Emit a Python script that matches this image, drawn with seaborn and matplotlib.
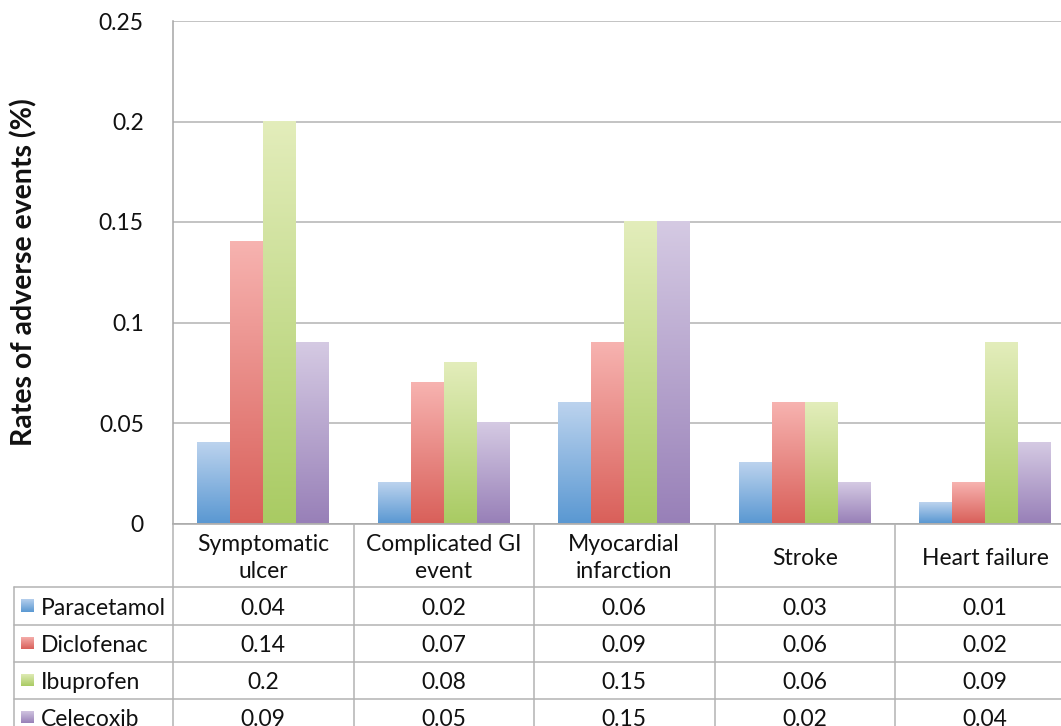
import numpy as np
import pandas as pd
import matplotlib
matplotlib.use("Agg")
import matplotlib.pyplot as plt
import seaborn as sns
from matplotlib.colors import LinearSegmentedColormap
from matplotlib.lines import Line2D
import matplotlib.transforms as mtransforms

# ---- data ----
categories = ["Symptomatic\nulcer", "Complicated GI\nevent", "Myocardial\ninfarction", "Stroke", "Heart failure"]
drugs = ["Paracetamol", "Diclofenac", "Ibuprofen", "Celecoxib"]
paracetamol = [0.04, 0.02, 0.06, 0.03, 0.01]
diclofenac = [0.14, 0.07, 0.09, 0.06, 0.02]
ibuprofen = [0.2, 0.08, 0.15, 0.06, 0.09]
celecoxib = [0.09, 0.05, 0.15, 0.02, 0.04]
table_labels = [["0.04", "0.02", "0.06", "0.03", "0.01"],
                ["0.14", "0.07", "0.09", "0.06", "0.02"],
                ["0.2", "0.08", "0.15", "0.06", "0.09"],
                ["0.09", "0.05", "0.15", "0.02", "0.04"]]
yticks = [0, 0.05, 0.1, 0.15, 0.2, 0.25]
ytick_labels = ["0", "0.05", "0.1", "0.15", "0.2", "0.25"]

series = [paracetamol, diclofenac, ibuprofen, celecoxib]
df = pd.DataFrame({
    "category": [c for s in series for c in categories],
    "drug": [d for d, s in zip(drugs, series) for _ in s],
    "value": [v for s in series for v in s],
})

bottom_cols = ["#5a98d2", "#d9605a", "#a9cb63", "#9880b8"]
top_cols = ["#bcd3ee", "#f7b3b0", "#e3edbb", "#d5cae3"]

sns.set_theme(style="white")
plt.rcParams["font.family"] = ["Lato", "DejaVu Sans"]

W, H = 1061, 726
fig = plt.figure(figsize=(W / 100, H / 100), dpi=100)

def fx(px):
    return px / W

def fy(py):
    return 1 - py / H

txt_col = "#111111"
fs = 16.5

ax_left, ax_right, ax_top, ax_bottom = 173, 1075.5, 21, 523.5
ax = fig.add_axes([fx(ax_left), fy(ax_bottom), fx(ax_right - ax_left), (ax_bottom - ax_top) / H])

sns.barplot(data=df, x="category", y="value", hue="drug", hue_order=drugs,
            order=categories, palette=bottom_cols, width=0.73, gap=0,
            ax=ax, legend=False, zorder=2)

# gradient fill per bar
grad = np.linspace(0, 1, 256).reshape(-1, 1)
for cont, bc, tc in zip(ax.containers, bottom_cols, top_cols):
    cmap = LinearSegmentedColormap.from_list("g", [bc, tc])
    for p in cont.patches:
        x0, y0, w, h = p.get_x(), p.get_y(), p.get_width(), p.get_height()
        ax.imshow(grad, extent=[x0, x0 + w, y0, y0 + h], origin="lower",
                  aspect="auto", cmap=cmap, zorder=2, interpolation="bilinear")
        p.set_visible(False)

ax.set_xlim(-0.5, 4.5)
ax.set_ylim(0, 0.25)
ax.set_yticks(yticks)
ax.set_yticklabels(ytick_labels, fontsize=fs, color=txt_col)
ax.set_xticks([])
ax.set_xlabel("")
ax.set_ylabel("Rates of adverse events (%)", fontsize=20.5, fontweight="bold",
              color=txt_col, labelpad=44)
ax.tick_params(axis="y", length=0, pad=21)
ax.yaxis.grid(True, color="#b3b3b3", linewidth=1.1, zorder=0)
ax.set_axisbelow(True)
for s in ["top", "right"]:
    ax.spines[s].set_visible(False)
for s in ["left", "bottom"]:
    ax.spines[s].set_color("#a6a6a6")
    ax.spines[s].set_linewidth(1.1)

# ---- data table ----
line_col = "#b3b3b3"
header_bottom = 587
row_lines = [587, 624.5, 661.5, 698.5, 735.5]
table_left = 14
cat_w = (ax_right - ax_left) / 5

def hline(y, x0, x1):
    fig.add_artist(Line2D([fx(x0), fx(x1)], [fy(y), fy(y)], color=line_col, lw=1.1))

def vline(x, y0, y1):
    fig.add_artist(Line2D([fx(x), fx(x)], [fy(y0), fy(y1)], color=line_col, lw=1.1))

for y in row_lines[:-1]:
    hline(y, table_left, W + 20)
vline(table_left, header_bottom, H + 20)
for i in range(6):
    vline(ax_left + i * cat_w, ax_bottom, H + 20)

blend = mtransforms.blended_transform_factory(ax.transData, fig.transFigure)
for i, c in enumerate(categories):
    fig.text(i, fy((ax_bottom + header_bottom) / 2 + 3), c, transform=blend,
             ha="center", va="center", fontsize=fs, color=txt_col,
             linespacing=1.35)

for r, (d, bc, tc) in enumerate(zip(drugs, bottom_cols, top_cols)):
    yc = (row_lines[r] + row_lines[r + 1]) / 2
    sw = 13
    sax = fig.add_axes([fx(21), fy(yc + sw / 2), fx(sw), sw / H])
    sax.imshow(grad, origin="lower", aspect="auto",
               cmap=LinearSegmentedColormap.from_list("s", [bc, tc]))
    sax.axis("off")
    fig.text(fx(41), fy(yc + 2.5), d, ha="left", va="center", fontsize=fs, color=txt_col)
    for i in range(5):
        fig.text(i, fy(yc + 2.5), table_labels[r][i], transform=blend,
                 ha="center", va="center", fontsize=fs, color=txt_col)

fig.savefig("out.png", dpi=100)
